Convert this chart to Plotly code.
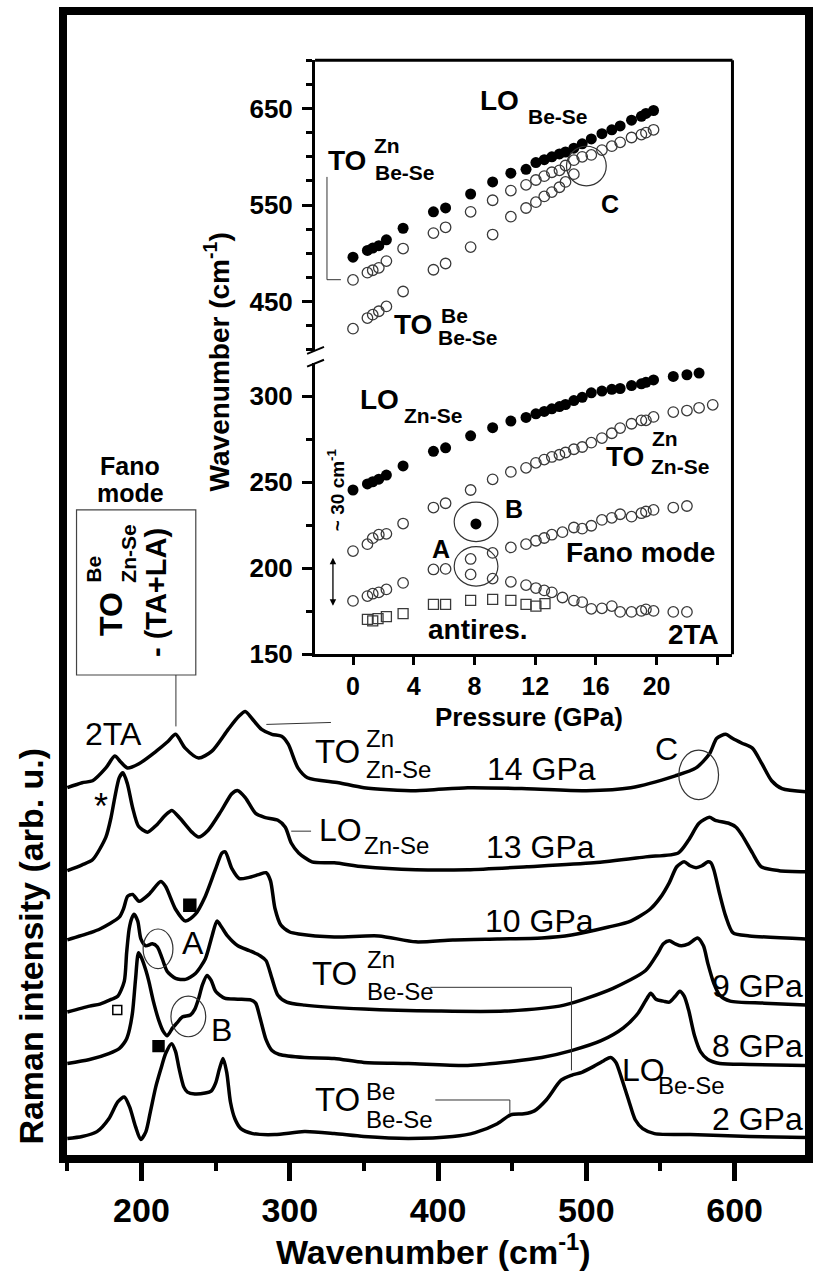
import plotly.graph_objects as go

W, H = 813, 1283
FONT = "Liberation Sans, Arial, Helvetica, sans-serif"

# ---------------- Raman spectra (wavenumber in cm-1, stacked intensity in arb. u.) ----------------
wn_14 = [150, 160, 167, 176, 182, 186, 190.5, 198, 210, 218, 223, 229.5, 238.5, 247.5, 258.5, 265.5, 270, 274.5,
         281, 288, 294.5, 299, 305.5, 312, 333, 350, 385, 420, 460, 500, 530, 560, 574, 583, 588, 594, 598.5, 605,
         612, 618.5, 625, 632, 648]
int_14 = [372, 377, 379, 392, 404, 398, 392, 396, 409, 419, 426, 412, 402, 409, 431, 444, 449, 442, 431, 426, 424,
          416, 392, 382, 377, 372, 369, 372, 371, 369, 372, 384, 392, 406, 422, 426, 422, 417, 412, 396, 379, 371, 368]

wn_13 = [150, 160, 167, 176, 179.5, 182, 185, 187.5, 190.5, 194, 198, 204, 210, 216, 220.5, 226, 234, 238.5, 245,
         254, 261, 265, 270, 277, 283, 292, 297, 301, 306, 315, 330, 350, 385, 420, 460, 505, 540, 562, 569, 576,
         583, 587, 596, 601, 605, 612, 618, 630, 648]
int_13 = [288, 294, 299, 322, 342, 362, 382, 387, 376, 352, 333, 327, 334, 344, 349, 341, 327, 322, 329, 349, 366,
          369, 362, 346, 342, 339, 332, 316, 306, 297, 296, 292, 289, 289, 292, 296, 302, 306, 319, 336, 342, 339,
          336, 332, 324, 306, 292, 288, 287]

wn_10 = [150, 165, 172, 185, 188, 190.6, 194, 198.4, 205, 213, 216.3, 223, 229.7, 236.4, 243, 249.8, 254.3, 256.5,
         261, 266, 272, 279, 284, 287, 290, 294, 300, 306, 330, 360, 385, 410, 440, 470, 490, 515, 530, 543, 550,
         556, 561, 566, 570, 574, 578, 582, 584, 586, 590, 594, 599, 610, 648]
int_10 = [218, 225, 229, 241, 250, 262, 264, 257, 264, 277, 272, 249, 237, 244, 262, 289, 306, 307, 290, 280, 281,
          284, 286, 278, 250, 233, 226, 224, 221, 222, 216, 218, 219, 220, 223, 231, 237, 249, 261, 276, 292, 297,
          293, 291, 293, 297, 296, 289, 264, 242, 225, 222, 219]

wn_9 = [150, 165, 172, 180, 184, 188.4, 190, 191.7, 193.5, 195, 197.5, 199.6, 202.9, 207.3, 210.7, 214, 217.4, 223,
        229.7, 236.4, 243.1, 247.6, 250.9, 254, 258, 265, 273, 280, 284, 288, 292, 298, 310, 350, 400, 445, 485, 518,
        540, 548, 552, 556, 560, 564, 569, 575, 579, 582, 586, 590, 597, 620, 648]
int_9 = [145, 151, 153, 158, 161, 176, 205, 229, 240, 244, 237, 219, 212, 214, 211, 199, 186, 179, 178, 184, 199,
         222, 237, 231, 222, 212, 207, 202, 197, 179, 162, 155, 152, 148, 146, 146, 152, 169, 187, 204, 214, 217, 214,
         212, 214, 220, 212, 194, 174, 162, 156, 154, 152]

wn_8 = [150, 165, 178, 185, 188, 190, 192, 194, 196, 198, 200, 203, 205, 208, 211.8, 214.5, 217.4, 221, 224, 227.5,
        233, 236, 238.6, 241, 244.2, 247, 250, 256, 265, 274, 277, 280, 284, 288, 293, 310, 330, 350, 380, 420, 450,
        470, 490, 510, 525, 535, 541, 543.5, 547, 552, 556, 560, 563, 566, 569, 573, 577, 582, 590, 610, 648]
int_8 = [93, 97, 103, 108, 113, 118, 128, 145, 178, 205, 200, 187, 176, 156, 136, 126, 121, 129, 134, 140, 142, 148,
         159, 172, 182, 177, 166, 159, 158, 157, 154, 139, 117, 106, 102, 99, 98, 94, 93, 91, 95, 99, 106, 116, 129,
         144, 159, 164, 158, 156, 155, 161, 166, 161, 147, 121, 105, 97, 93, 92, 91]

wn_2 = [150, 160, 170, 178, 184, 188.4, 192, 196, 199.5, 203, 206, 209.6, 213, 216.3, 220.3, 223, 225.2, 228.6, 231,
        236, 243, 247, 250, 252.5, 255, 257.5, 260, 263, 267, 275, 290, 310, 330, 350, 380, 410, 425, 440, 449, 458,
        465, 473, 483, 490, 497, 505, 512, 516.3, 520, 524, 528.5, 533, 538, 546, 570, 610, 648]
int_2 = [17, 19, 24, 37, 54, 59, 49, 29, 16, 24, 44, 69, 87, 103, 113, 105, 89, 69, 64, 62, 63, 65, 73, 87, 98, 84,
         54, 37, 27, 22, 21, 24, 22, 19, 17, 19, 23, 32, 41, 42, 45, 56, 76, 81, 84, 90, 96, 99, 94, 77, 56, 36, 27,
         22, 21, 19, 18]

spectra = [(wn_14, int_14), (wn_13, int_13), (wn_10, int_10), (wn_9, int_9), (wn_8, int_8), (wn_2, int_2)]

# ---------------- Pressure dependence of the mode frequencies ----------------
p_lo_bese = [0, 0.95, 1.3, 1.7, 2.2, 3.3, 5.3, 6.1, 7.75, 9.2, 10.4, 11.4, 12.05, 12.6, 13.1, 13.6, 14.0, 14.55,
             15.1, 15.7, 16.4, 17.05, 17.6, 18.35, 19.0, 19.3, 19.8]
w_lo_bese = [496, 503, 505.5, 508, 514, 526, 543, 547, 561.5, 574, 583, 587, 594, 597, 600, 603, 605, 609, 613.5,
             618.5, 624, 628, 632, 638, 642, 645, 648]

p_to_zn_bese = [0, 0.95, 1.3, 1.7, 2.2, 3.3, 5.3, 6.1, 7.75, 9.2, 10.4, 11.4, 12.05, 12.6, 13.1, 13.6, 14.0, 14.55,
                15.1, 15.7, 16.4, 17.05, 17.6, 18.35, 19.0, 19.3, 19.8]
w_to_zn_bese = [472.5, 480, 482.5, 485, 492, 505, 521, 527, 543, 555, 565, 571, 576, 580, 584, 586, 591, 596.5, 600,
                602, 607, 611, 615, 620, 623, 625, 628]

p_to_be_bese = [0, 0.95, 1.3, 1.7, 2.2, 3.3, 5.3, 6.1, 7.75, 9.2, 10.4, 11.4, 12.05, 12.6, 13.1, 13.6, 14.0, 14.55]
w_to_be_bese = [422, 433, 436.5, 440, 445, 460.5, 483, 489.5, 506.5, 519.5, 538, 547, 553, 559, 563.5, 568.5, 574,
                582]

p_lo_znse = [0, 0.95, 1.3, 1.7, 2.2, 3.3, 5.3, 6.1, 7.75, 9.2, 10.4, 11.4, 12.05, 12.6, 13.1, 13.6, 14.0, 14.55,
             15.1, 15.7, 16.4, 17.05, 17.6, 18.35, 19.0, 19.3, 19.8, 21.1, 22.0, 22.8]
w_lo_znse = [245.5, 249, 250.3, 251.8, 254.2, 259.5, 268, 270, 277, 281.7, 285.6, 287.7, 289.8, 291.2, 292.7, 294,
             295.2, 297.5, 299.4, 302, 303, 304, 304.5, 306.2, 307.2, 308.1, 309.5, 311.5, 312.5, 313.5]

p_to_zn_znse = [0, 0.95, 1.3, 1.7, 2.2, 3.3, 5.3, 6.1, 7.75, 9.2, 10.4, 11.4, 12.05, 12.6, 13.1, 13.6, 14.0, 14.55,
                15.1, 15.7, 16.4, 17.05, 17.6, 18.35, 19.0, 19.3, 19.8, 21.1, 22.0, 22.8, 23.7]
w_to_zn_znse = [210, 214, 217.5, 219.5, 220, 226, 235.3, 237.8, 245.5, 251.7, 256, 258.4, 261.3, 263.2, 264.7, 266,
                267.3, 269.2, 270.5, 273, 275.7, 278.5, 281.5, 284, 286, 286, 288, 290.8, 291.7, 293.3, 295]

p_low_branch = [0, 0.95, 1.3, 1.7, 2.2, 3.3, 5.3, 6.1]
w_low_branch = [181, 183.8, 185.2, 186, 187.7, 191.5, 199.3, 199.6]

p_fano = [7.75, 9.2, 10.4, 11.4, 12.05, 12.6, 13.1, 13.8, 14.55, 15.1, 15.7, 16.4, 17.05, 17.6, 18.35, 19.0, 19.3,
          19.8, 21.1, 22.0]
w_fano = [205.4, 208.9, 212.1, 214, 216, 217.6, 219.5, 221, 223.7, 223, 224.7, 228.1, 229.3, 231.4, 230, 232, 233,
          233.9, 235.3, 236.2]

p_2ta = [7.75, 9.2, 10.4, 11.4, 12.05, 12.6, 13.1, 13.8, 14.55, 15.1, 15.7, 16.4, 17.05, 17.6, 18.35, 19.0, 19.3,
         19.8, 21.1, 22.0]
w_2ta = [196.4, 194, 192.1, 190.2, 188.5, 187.1, 186, 183, 181.2, 180.3, 176.4, 176.7, 178, 174.6, 174.6, 175.2,
         176.1, 175.2, 174.6, 174.6]

p_antires = [0.95, 1.3, 1.65, 2.2, 3.3, 5.3, 6.1, 7.75, 9.2, 10.4, 11.4, 12.05, 12.65]
w_antires = [170.3, 169.4, 170.7, 171.9, 173.6, 179, 179, 181.3, 181.9, 181.3, 179, 178, 179.4]

p_b_point = [8.1]
w_b_point = [225.8]

main_ticks = [200, 300, 400, 500, 600]
main_minor = [150, 250, 350, 450, 550]
p_ticks = [0, 4, 8, 12, 16, 20]
p_minor = [24]
low_ticks = [150, 200, 250, 300]
low_minor = [175, 225, 275]
high_ticks = [450, 550, 650]
high_minor = [400, 425, 475, 500, 525, 575, 600, 625, 675, 700]


def fx(px):
    return px / W


def fy(py):
    return 1 - py / H


fig = go.Figure()

for wn, it in spectra:
    fig.add_trace(go.Scatter(x=wn, y=it, mode="lines", xaxis="x", yaxis="y",
                             line=dict(color="black", width=3.5, shape="spline", smoothing=0.7),
                             showlegend=False, hoverinfo="skip"))

open_marker = dict(symbol="circle-open", size=10.5, color="#3a3a3a", line=dict(width=1.3))
filled_marker = dict(symbol="circle", size=11, color="black")

for p, w, mk, ya in [
    (p_lo_bese, w_lo_bese, filled_marker, "y3"),
    (p_to_zn_bese, w_to_zn_bese, open_marker, "y3"),
    (p_to_be_bese, w_to_be_bese, open_marker, "y3"),
    (p_lo_znse, w_lo_znse, filled_marker, "y2"),
    (p_to_zn_znse, w_to_zn_znse, open_marker, "y2"),
    (p_low_branch, w_low_branch, open_marker, "y2"),
    (p_fano, w_fano, open_marker, "y2"),
    (p_2ta, w_2ta, open_marker, "y2"),
    (p_antires, w_antires, dict(symbol="square-open", size=10, color="#3a3a3a", line=dict(width=1.3)), "y2"),
    (p_b_point, w_b_point, filled_marker, "y2"),
]:
    fig.add_trace(go.Scatter(x=p, y=w, mode="markers", xaxis="x2", yaxis=ya, marker=mk,
                             showlegend=False, hoverinfo="skip"))

bold_tick = dict(family=FONT, size=34, color="black", weight="bold")
inset_tick = dict(family=FONT, size=25, color="black", weight="bold")

fig.update_layout(
    width=W, height=H,
    margin=dict(l=0, r=0, t=0, b=0),
    paper_bgcolor="white", plot_bgcolor="white",
    xaxis=dict(domain=[fx(67), fx(810)], range=[149.5, 647.5], anchor="y",
               tickvals=main_ticks, ticks="outside", ticklen=18, tickwidth=5, tickcolor="black",
               minor=dict(tickvals=main_minor, ticks="outside", ticklen=8, tickwidth=4, tickcolor="black"),
               tickfont=bold_tick, showline=True, linewidth=8, linecolor="black", mirror=True,
               showgrid=False, zeroline=False),
    yaxis=dict(domain=[fy(1169), fy(15)], range=[0, 1154], anchor="x",
               showticklabels=False, ticks="", showline=True, linewidth=8, linecolor="black",
               mirror=True, showgrid=False, zeroline=False),
    xaxis2=dict(domain=[fx(317), fx(737)], range=[-2.5, 25], anchor="y2",
                tickvals=p_ticks, ticks="outside", ticklen=8, tickwidth=3, tickcolor="black",
                minor=dict(tickvals=p_minor, ticks="outside", ticklen=8, tickwidth=3, tickcolor="black"),
                tickfont=inset_tick, showline=True, linewidth=3, linecolor="black",
                showgrid=False, zeroline=False),
    yaxis2=dict(domain=[fy(662), fy(367)], range=[150, 319.5], anchor="x2",
                tickvals=low_ticks, ticks="outside", ticklen=10, tickwidth=3, tickcolor="black",
                minor=dict(tickvals=low_minor, ticks="outside", ticklen=6, tickwidth=2.5, tickcolor="black"),
                tickfont=dict(family=FONT, size=26, color="black", weight="bold"), ticklabelstandoff=4,
                showline=True, linewidth=3, linecolor="black", showgrid=False, zeroline=False),
    yaxis3=dict(domain=[fy(355), fy(61)], range=[399, 700], anchor="x2",
                tickvals=high_ticks, ticks="outside", ticklen=10, tickwidth=3, tickcolor="black",
                minor=dict(tickvals=high_minor, ticks="outside", ticklen=6, tickwidth=2.5, tickcolor="black"),
                tickfont=dict(family=FONT, size=26, color="black", weight="bold"), ticklabelstandoff=4,
                showline=True, linewidth=3, linecolor="black", showgrid=False, zeroline=False),
)


def txt(s, x, y, size, bold=False, xanchor="center", angle=0):
    fig.add_annotation(text=s, x=fx(x), y=fy(y), xref="paper", yref="paper", showarrow=False,
                       xanchor=xanchor, yanchor="middle", textangle=angle, borderpad=0,
                       font=dict(family=FONT, size=size, color="black",
                                 weight="bold" if bold else "normal"))


def seg(x0, y0, x1, y1, width=1.2, color="#333"):
    fig.add_shape(type="line", xref="paper", yref="paper", x0=fx(x0), y0=fy(y0), x1=fx(x1), y1=fy(y1),
                  line=dict(color=color, width=width))


def ring(cx, cy, rx, ry, width=1.2):
    fig.add_shape(type="circle", xref="paper", yref="paper", x0=fx(cx - rx), x1=fx(cx + rx),
                  y0=fy(cy + ry), y1=fy(cy - ry), line=dict(color="#333", width=width))


def square(cx, cy, s, filled):
    fig.add_shape(type="rect", xref="paper", yref="paper", x0=fx(cx - s / 2), x1=fx(cx + s / 2),
                  y0=fy(cy + s / 2), y1=fy(cy - s / 2),
                  line=dict(color="black", width=1.5), fillcolor="black" if filled else "white")


# axis titles of the main panel
txt("Wavenumber (cm<sup>-1</sup>)", 436, 1264, 34, bold=True)
txt("Raman intensity (arb. u.)", 31, 957, 34, bold=True, angle=-90)

# inset frame (top and right), axis break and titles
seg(317, 61, 737, 61, width=3, color="black")
seg(737, 61, 737, 662, width=3, color="black")
seg(309, 358, 326, 351, width=2, color="black")
seg(309, 371, 326, 364, width=2, color="black")
txt("Pressure (GPa)", 532, 725, 26, bold=True)
txt("Wavenumber (cm<sup>-1</sup>)", 218, 366, 28, bold=True, angle=-90)

# inset mode labels
txt("LO", 503, 102, 28, bold=True)
txt("Be-Se", 530, 118, 21, bold=True, xanchor="left")
txt("TO", 349, 162, 28, bold=True)
txt("Zn", 375, 147, 21, bold=True, xanchor="left")
txt("Be-Se", 376, 175, 21, bold=True, xanchor="left")
seg(329, 179, 329, 283, width=1)
seg(329, 283, 343, 283, width=1)
txt("C", 614, 206, 25, bold=True)
ring(590, 168, 20, 20)
txt("TO", 416, 328, 28, bold=True)
txt("Be", 443, 319, 21, bold=True, xanchor="left")
txt("Be-Se", 440, 341, 21, bold=True, xanchor="left")
txt("LO", 382, 404, 28, bold=True)
txt("Zn-Se", 405, 420, 21, bold=True, xanchor="left")
txt("TO", 629, 462, 28, bold=True)
txt("Zn", 655, 444, 21, bold=True, xanchor="left")
txt("Zn-Se", 654, 472, 21, bold=True, xanchor="left")
txt("B", 517, 515, 25, bold=True)
ring(479, 528, 22, 20)
txt("A", 444, 556, 25, bold=True)
ring(479, 573, 22, 20)
txt("Fano mode", 644, 559, 28, bold=True)
txt("antires.", 481, 637, 28, bold=True)
txt("2TA", 698, 642, 28, bold=True)
txt("~ 30 cm<sup>-1</sup>", 338, 495, 19, bold=True, angle=-90)
fig.add_annotation(x=fx(335), y=fy(613), xref="paper", yref="paper", ax=0, ay=-58, text=" ",
                   showarrow=True, arrowhead=2, arrowside="end+start", arrowsize=1, arrowwidth=1.3,
                   arrowcolor="black")

# Fano mode assignment box
txt("Fano", 131, 472, 25, bold=True)
txt("mode", 131, 499, 25, bold=True)
fig.add_shape(type="rect", xref="paper", yref="paper", x0=fx(77), x1=fx(197), y0=fy(683), y1=fy(516),
              line=dict(color="#444", width=1.2))
txt("TO", 111, 621, 32, bold=True, angle=-90)
txt("Be", 94, 576, 21, bold=True, angle=-90)
txt("Zn-Se", 129, 560, 21, bold=True, angle=-90)
txt("- (TA+LA)", 157, 600, 29, bold=True, angle=-90)
seg(177, 683, 177, 735, width=1)

# spectra labels
txt("2TA", 114, 743, 32)
txt("*", 102, 816, 36)
txt("TO", 340, 760, 33)
txt("Zn", 367, 747, 24, xanchor="left")
txt("Zn-Se", 367, 779, 24, xanchor="left")
seg(268, 733, 333, 731, width=1)
txt("14 GPa", 545, 778, 32)
txt("C", 671, 758, 32)
ring(703, 784, 20, 25)
txt("LO", 343, 840, 32)
txt("Zn-Se", 365, 856, 24, xanchor="left")
seg(293, 841, 313, 841, width=1)
txt("13 GPa", 544, 857, 32)
txt("10 GPa", 543, 932, 32)
square(191, 916, 12, True)
txt("A", 194, 954, 32)
ring(159, 960, 15, 20)
txt("TO", 337, 985, 33)
txt("Zn", 368, 971, 24, xanchor="left")
txt("Be-Se", 368, 1003, 24, xanchor="left")
seg(433, 999, 575, 999, width=1)
seg(575, 999, 575, 1083, width=1)
txt("9 GPa", 809, 998, 32, xanchor="right")
square(118, 1022, 9, False)
txt("B", 223, 1042, 32)
ring(189.5, 1028.5, 17.5, 20.5)
txt("8 GPa", 809, 1058, 32, xanchor="right")
square(159.5, 1058.5, 11, True)
txt("TO", 340, 1113, 33)
txt("Be", 367, 1104, 24, xanchor="left")
txt("Be-Se", 367, 1133, 24, xanchor="left")
seg(438, 1113, 513, 1113, width=1)
seg(513, 1113, 513, 1127, width=1)
txt("LO", 647, 1083, 32)
txt("Be-Se", 661, 1098, 24, xanchor="left")
txt("2 GPa", 809, 1132, 32, xanchor="right")

fig.write_html("out.html")
